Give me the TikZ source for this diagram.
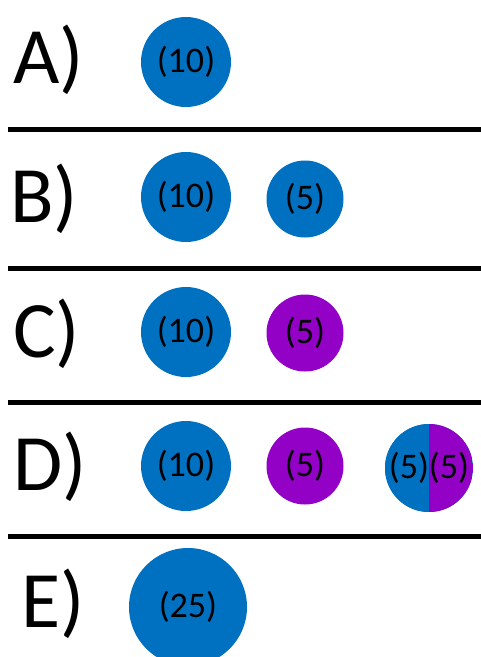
\documentclass[tikz,border=0pt]{standalone}
\usepackage{fontspec}
\setmainfont{Carlito}
\usepackage{xcolor}
\usepackage{tikz}
\usetikzlibrary{positioning}
\definecolor{mgBlue}{HTML}{0070C0}
\definecolor{mgPurple}{HTML}{9300C6}
\tikzset{
  row label/.style={anchor=base west,inner sep=0pt,font=\fontsize{80}{80}\selectfont},
  drop/.style={circle,inner sep=0pt,minimum size=90pt,fill=mgBlue,
    font=\fontsize{36}{36}\selectfont},
  small drop/.style={drop,minimum size=77pt},
  purple drop/.style={small drop,fill=mgPurple},
  row rule/.style={line width=5pt}
}
\begin{document}
\begin{tikzpicture}[x=1pt,y=-1pt]
\useasboundingbox (0,0) rectangle (481,657);
% row labels
\node[row label] (la) at (13,83) {A)};
\node[row label] (lb) at (10,222) {B)};
\node[row label] (lc) at (13,357) {C)};
\node[row label] (ld) at (13,490) {D)};
\node[row label] (le) at (21,627) {E)};
% rules between the rows
\coordinate (r1a) at (8,129); \coordinate (r1b) at (481,129);
\coordinate (r2a) at (8,268); \coordinate (r2b) at (481,268);
\coordinate (r3a) at (8,402); \coordinate (r3b) at (481,402);
\coordinate (r4a) at (8,536); \coordinate (r4b) at (481,536);
\draw[row rule] (r1a) -- (r1b); \draw[row rule] (r2a) -- (r2b);
\draw[row rule] (r3a) -- (r3b); \draw[row rule] (r4a) -- (r4b);
% A
\node[drop] (a1) at (186,62) {(10)};
% B
\node[drop] (b1) at (186,197) {(10)};
\node[small drop] (b2) at (305,199) {(5)};
% C
\node[drop] (c1) at (186,332) {(10)};
\node[purple drop] (c2) at (305,333) {(5)};
% D
\node[drop] (d1) at (186,466) {(10)};
\node[purple drop] (d2) at (305,466) {(5)};
\node[drop,minimum size=88pt,path picture={
    \fill[mgBlue] (path picture bounding box.south west) rectangle (path picture bounding box.north);
    \fill[mgPurple] (path picture bounding box.south) rectangle (path picture bounding box.north east);
  }] (d3) at (429,468) {(5)(5)};
% E
\node[drop,minimum size=118pt] (e1) at (188,607) {(25)};
\end{tikzpicture}
\end{document}
